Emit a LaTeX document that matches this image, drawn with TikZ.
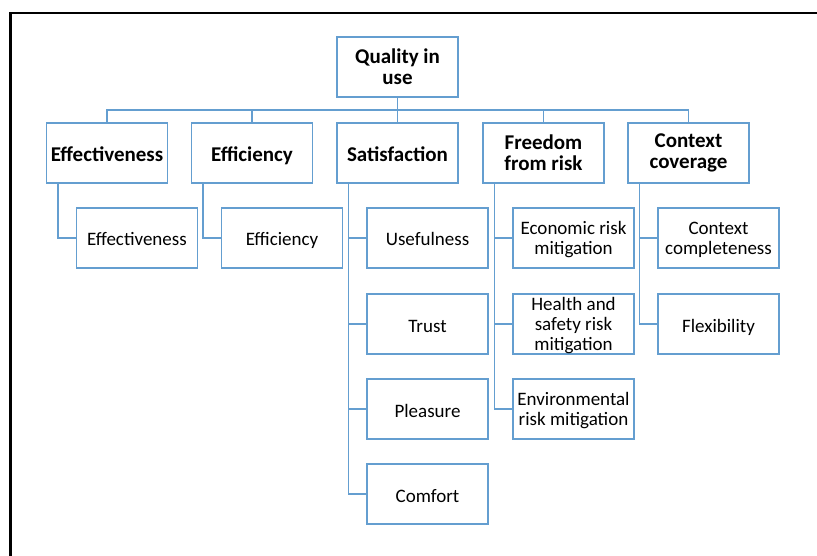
\documentclass[tikz,border=0pt]{standalone}
\usepackage{fontspec}
\setmainfont{Carlito}
\usetikzlibrary{calc}
\definecolor{boxblue}{RGB}{100,158,208}
\tikzset{
  topbox/.style={draw=boxblue, line width=1.3pt, minimum width=121pt, minimum height=60pt,
    inner sep=0pt, align=center, font=\fontsize{21}{21}\selectfont\bfseries},
  catbox/.style={topbox},
  subbox/.style={draw=boxblue, line width=1.3pt, minimum width=121pt, minimum height=60pt,
    inner sep=0pt, align=center, text depth=0pt, font=\fontsize{19}{20}\selectfont},
  oneline/.style={text height=16pt, text depth=0pt},
  onebold/.style={text height=18pt, text depth=0pt},
  link/.style={draw=boxblue, line width=1.3pt}
}
\begin{document}
\begin{tikzpicture}[x=1pt, y=-1pt]
\useasboundingbox (0,0) rectangle (817,556);
% page frame
\draw[line width=2.2pt] (10.5,556) -- (10.5,12.7) -- (817,12.7);

% root
\node[topbox] (qiu) at (397.5,67) {Quality in\\use};

% characteristics
\node[catbox, onebold] (effc) at (107,153)   {Effectiveness};
\node[catbox, onebold] (effi) at (252,153)   {Efficiency};
\node[catbox, onebold] (sat)  at (397.5,153) {Satisfaction};
\node[catbox] (free) at (543.5,153) {Freedom\\from risk};
\node[catbox] (ctx)  at (688.5,153) {Context\\coverage};

% sub-characteristics
\node[subbox, oneline] (effc1) at (137,238)   {Effectiveness};
\node[subbox, oneline] (effi1) at (282,238)   {Efficiency};
\node[subbox, oneline] (sat1)  at (427.5,238) {Usefulness};
\node[subbox, oneline] (sat2)  at (427.5,324) {Trust};
\node[subbox, oneline] (sat3)  at (427.5,409) {Pleasure};
\node[subbox, oneline] (sat4)  at (427.5,494) {Comfort};
\node[subbox] (free1) at (573.5,238) {Economic risk\\mitigation};
\node[subbox] (free2) at (573.5,324) {Health and\\safety risk\\mitigation};
\node[subbox] (free3) at (573.5,409) {Environmental\\risk mitigation};
\node[subbox] (ctx1)  at (718.5,238) {Context\\completeness};
\node[subbox, oneline] (ctx2)  at (718.5,324) {Flexibility};

% bus from the root
\coordinate (bus) at (0,110);
\foreach \c in {effc,effi,sat,free,ctx}
  \draw[link] (qiu.south) -- (qiu.south |- bus) -| (\c.north);

% branch lines to sub-characteristics
\foreach \p/\kids in {effc/{effc1}, effi/{effi1}, sat/{sat1,sat2,sat3,sat4},
                      free/{free1,free2,free3}, ctx/{ctx1,ctx2}} {
  \coordinate (\p-t) at ($(\p.south west)+(12,0)$);
  \foreach \k in \kids
    \draw[link] (\p-t) |- (\k.west);
}
\end{tikzpicture}
\end{document}
